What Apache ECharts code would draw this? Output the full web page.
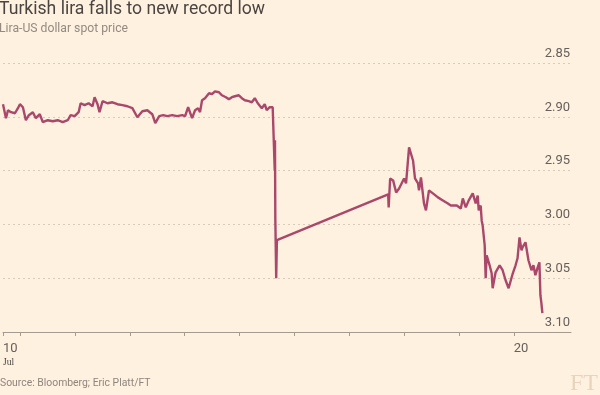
<!DOCTYPE html>
<html><head><meta charset="utf-8">
<script src="https://cdn.jsdelivr.net/npm/echarts@6/dist/echarts.min.js"></script>
<style>html,body{margin:0;padding:0;background:#FFF1E0;}#c{width:600px;height:395px;}</style>
</head><body><div id="c"></div>
<script>
// Day of July 2016 (fractional, UTC)
var days = [
10.686,10.740,10.777,10.831,10.904,10.958,10.995,11.049,11.103,11.158,11.230,11.285,11.357,11.412,11.503,11.593,11.684,11.775,11.866,11.920,11.993,
12.065,12.102,12.174,12.247,12.319,12.356,12.410,12.446,12.501,12.592,12.682,12.773,12.864,12.955,13.045,13.136,13.227,13.318,13.408,13.463,13.535,
13.608,13.681,13.771,13.862,13.953,14.007,14.062,14.134,14.189,14.243,14.279,14.316,14.370,14.443,14.497,14.552,14.624,14.679,14.751,14.806,14.860,
14.915,14.987,15.042,15.096,15.169,15.223,15.278,15.332,15.405,15.459,15.495,15.550,15.604,15.631,
15.641,15.646,15.652,15.668,15.681,
17.710,17.719,17.746,17.800,17.855,17.909,17.945,18.000,18.036,18.091,18.127,18.163,18.199,18.254,18.272,18.308,18.363,18.399,18.454,18.526,18.617,
18.708,18.799,18.853,18.889,18.962,19.035,19.071,19.125,19.179,19.252,19.306,19.343,19.361,19.397,19.415,19.433,19.470,19.488,19.506,19.560,19.597,
19.615,19.669,19.742,19.797,19.851,19.906,19.942,19.978,20.033,20.069,20.105,20.142,20.160,20.214,20.268,20.323,20.359,20.395,20.432,20.468,20.486,
20.504,20.522
];
// Lira per US dollar
var prices = [
2.8883,2.9013,2.8939,2.8957,2.8967,2.8920,2.8883,2.8911,2.9032,2.8985,2.8957,2.9013,2.8976,2.9050,2.9032,2.9041,2.9032,2.9050,2.9032,2.8985,2.8994,
2.8957,2.8874,2.8892,2.8874,2.8902,2.8818,2.8883,2.8957,2.8855,2.8874,2.8865,2.8883,2.8892,2.8902,2.8920,2.9004,2.8948,2.8939,2.8976,2.9059,2.8994,
2.8985,2.8994,2.8985,2.8994,2.8985,2.8994,2.8911,2.9013,2.8939,2.8920,2.8957,2.8846,2.8827,2.8781,2.8790,2.8763,2.8772,2.8800,2.8818,2.8837,2.8818,
2.8809,2.8800,2.8827,2.8846,2.8855,2.8865,2.8827,2.8874,2.8920,2.8883,2.8939,2.8911,2.8911,2.8920,
2.9497,2.9219,2.9943,3.0500,3.0147,
2.9721,2.9842,2.9573,2.9591,2.9703,2.9666,2.9666,2.9573,2.9619,2.9285,2.9294,2.9406,2.9573,2.9619,2.9684,2.9564,2.9805,2.9870,2.9684,2.9712,2.9749,
2.9777,2.9805,2.9824,2.9842,2.9824,2.9852,2.9759,2.9842,2.9777,2.9712,2.9805,2.9731,2.9870,2.9824,2.9963,3.0010,3.0195,3.0500,3.0287,3.0380,3.0454,
3.0593,3.0445,3.0380,3.0426,3.0519,3.0593,3.0528,3.0463,3.0380,3.0315,3.0120,3.0241,3.0213,3.0166,3.0333,3.0426,3.0380,3.0472,3.0407,3.0352,3.0658,
3.0732,3.0825
];
var xMin = 10.686, xMax = 21.044;
var dayTicks = [10.686, 11, 12, 13, 14, 15, 16, 17, 18, 19, 20];
var dayLabels = [10.686, 20];
var yTicks = [2.85, 2.90, 2.95, 3.00, 3.05, 3.10];

var seriesData = days.map(function (d, i) { return [d, prices[i]]; });
var chart = echarts.init(document.getElementById('c'), null, {renderer: 'canvas'});
var gray = '#66605c';
chart.setOption({
  backgroundColor: '#FFF1E0',
  animation: false,
  textStyle: {fontFamily: 'Roboto'},
  title: {
    text: 'Turkish lira falls to new record low',
    subtext: 'Lira-US dollar spot price',
    left: -1, top: 1, padding: 0, itemGap: 4,
    textStyle: {fontSize: 17.6, fontWeight: 'normal', color: '#4a4541', fontFamily: 'Roboto'},
    subtextStyle: {fontSize: 12.2, color: '#948a82', fontFamily: 'Roboto'}
  },
  grid: {left: 0, right: 29, top: 63, bottom: 63, containLabel: false},
  xAxis: {
    type: 'value', min: xMin, max: xMax,
    axisLine: {show: true, lineStyle: {color: '#a39a90', width: 1}},
    axisTick: {show: true, customValues: dayTicks, length: 4, lineStyle: {color: '#a39a90'}},
    axisLabel: {
      customValues: dayLabels, align: 'left', margin: 8,
      formatter: function (v) { return v < 15 ? '{a|10}\n{b|Jul}' : '{a|20}'; },
      rich: {
        a: {fontSize: 13, color: gray, lineHeight: 17, fontFamily: 'Roboto'},
        b: {fontSize: 9.5, color: '#4a4541', lineHeight: 10, fontFamily: 'Liberation Serif'}
      }
    },
    splitLine: {show: false}
  },
  yAxis: {
    type: 'value', inverse: true, min: 2.85, max: 3.10, interval: 0.05, position: 'right',
    axisLine: {show: false}, axisTick: {show: false},
    axisLabel: {
      inside: true, align: 'right', verticalAlign: 'bottom', margin: 1,
      padding: [0, 0, 3, 0], fontSize: 13, color: gray, fontFamily: 'Roboto',
      customValues: yTicks,
      formatter: function (v) { return v.toFixed(2); }
    },
    splitLine: {show: true, lineStyle: {type: [2, 3], color: '#d9cbbb', width: 1}}
  },
  series: [{
    type: 'line', data: seriesData, showSymbol: false, symbol: 'none',
    lineStyle: {color: '#a9486b', width: 2.4}, z: 3
  }],
  graphic: [
    {type: 'text', left: 0, top: 378, style: {text: 'Source: Bloomberg; Eric Platt/FT', fontSize: 10.4, fill: '#8f857d', fontFamily: 'Roboto'}},
    {type: 'text', right: 2, top: 372, style: {text: 'FT', fontSize: 24, fill: '#e8d4be', fontFamily: 'Liberation Serif'}}
  ]
});
</script></body></html>
